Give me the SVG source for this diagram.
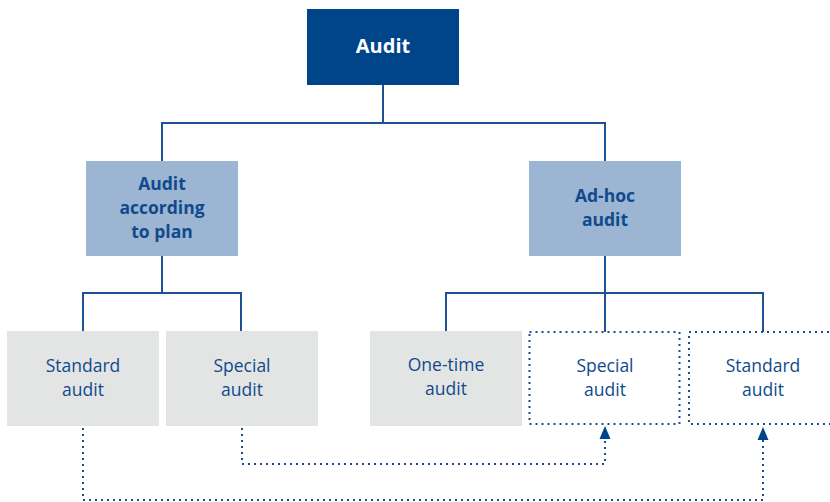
<svg xmlns="http://www.w3.org/2000/svg" width="830" height="502" viewBox="0 0 830 502">
<style>
.t{font-family:"Open Sans","Noto Sans",sans-serif;text-anchor:middle;fill:#114a8c}
.b{font-weight:bold;font-size:17.5px}
.r{font-size:17.5px}
.l1{fill:#00448a}
.l2{fill:#9bb5d2}
.l3{fill:#e3e5e5}
.dotbox{fill:none;stroke:#1b4c8e;stroke-width:2;stroke-dasharray:2 4}
.con{fill:none;stroke:#1f5295;stroke-width:2}
.dot{fill:none;stroke:#1b4c8e;stroke-width:2;stroke-dasharray:2 4}
.arr{fill:#00448a}
</style>
<g id="connectors">
<path class="con" d="M383,85 V123 M162,161 V123 H605 V161"/>
<path class="con" d="M162,256 V293 M83,331 V293 H241 V331"/>
<path class="con" d="M605,256 V332 M446,331 V293 H763 V332"/>
<path class="dot" d="M83,428 V500 H763 V440"/>
<path class="dot" d="M242,428 V464 H605 V440"/>
<path class="arr" d="M605,426 L599.5,439 L610.5,439 Z"/>
<path class="arr" d="M763,427 L757.5,440 L768.5,440 Z"/>
</g>
<g id="audit">
<rect class="l1" x="307" y="9" width="152" height="76"/>
<text class="t b" x="383" y="53" style="fill:#fff;font-size:20px">Audit</text>
</g>
<g id="plan">
<rect class="l2" x="86" y="161" width="152" height="95"/>
<text class="t b" x="162" y="190">Audit</text>
<text class="t b" x="162" y="214">according</text>
<text class="t b" x="162" y="238">to plan</text>
</g>
<g id="adhoc">
<rect class="l2" x="529" y="161" width="152" height="95"/>
<text class="t b" x="605" y="202">Ad-hoc</text>
<text class="t b" x="605" y="226">audit</text>
</g>
<g id="standard1">
<rect class="l3" x="7" y="331" width="152" height="95"/>
<text class="t r" x="83" y="372">Standard</text>
<text class="t r" x="83" y="396">audit</text>
</g>
<g id="special1">
<rect class="l3" x="166" y="331" width="152" height="95"/>
<text class="t r" x="242" y="372">Special</text>
<text class="t r" x="242" y="396">audit</text>
</g>
<g id="onetime">
<rect class="l3" x="370" y="331" width="152" height="95"/>
<text class="t r" x="446" y="371">One-time</text>
<text class="t r" x="446" y="395">audit</text>
</g>
<g id="special2">
<rect class="dotbox" x="529.5" y="332" width="150" height="92"/>
<text class="t r" x="605" y="372">Special</text>
<text class="t r" x="605" y="396">audit</text>
</g>
<g id="standard2">
<rect class="dotbox" x="689" y="332" width="160" height="92"/>
<text class="t r" x="763" y="372">Standard</text>
<text class="t r" x="763" y="396">audit</text>
</g>
</svg>
